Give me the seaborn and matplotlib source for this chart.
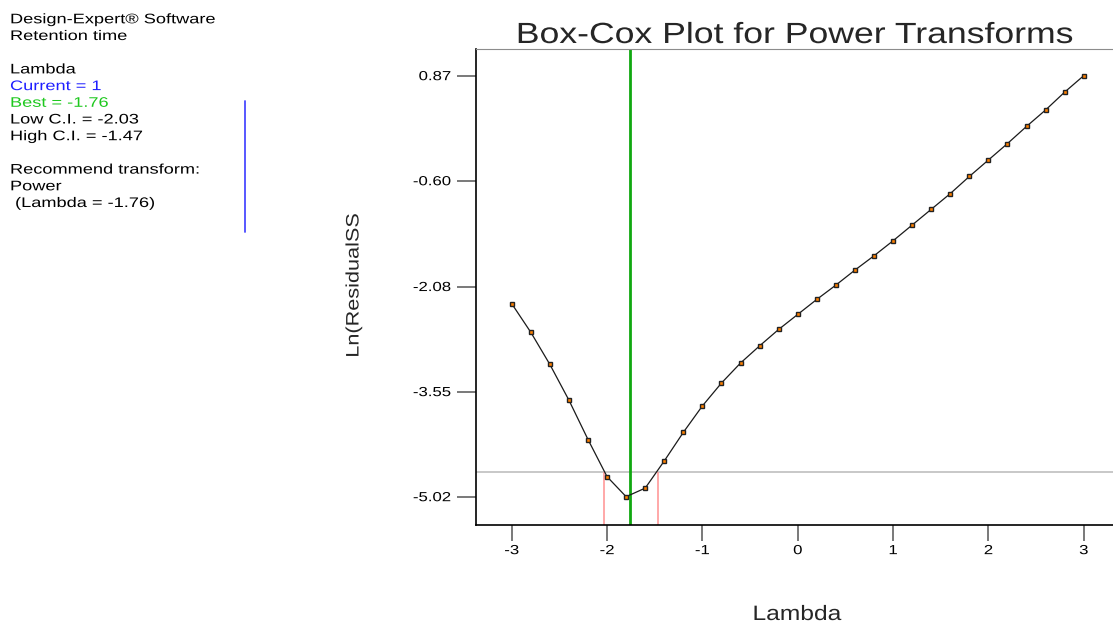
import matplotlib
matplotlib.use("Agg")
import matplotlib.pyplot as plt
from matplotlib.lines import Line2D
from matplotlib.patheffects import AbstractPathEffect
from matplotlib.transforms import Affine2D
import numpy as np
import pandas as pd
import seaborn as sns

# Box-Cox scan: lambda vs ln(residual SS)
lambdas = [-3.0, -2.8, -2.6, -2.4, -2.2, -2.0, -1.8, -1.6, -1.4, -1.2, -1.0,
           -0.8, -0.6, -0.4, -0.2, 0.0, 0.2, 0.4, 0.6, 0.8, 1.0,
           1.2, 1.4, 1.6, 1.8, 2.0, 2.2, 2.4, 2.6, 2.8, 3.0]
ln_rss = [-2.32, -2.72, -3.17, -3.67, -4.22, -4.74, -5.02, -4.90, -4.52, -4.12, -3.75,
          -3.43, -3.15, -2.91, -2.68, -2.47, -2.26, -2.06, -1.85, -1.65, -1.44,
          -1.22, -1.00, -0.78, -0.54, -0.31, -0.08, 0.16, 0.39, 0.64, 0.87]

best_lambda = -1.76
current_lambda = 1
ci_low = -2.03
ci_high = -1.47
ci_threshold = -4.67

x_ticks = [-3, -2, -1, 0, 1, 2, 3]
y_ticks = [-5.02, -3.55, -2.08, -0.60, 0.87]

info_lines = [
    ("Design-Expert\u00ae Software", "black"),
    ("Retention time", "black"),
    ("", "black"),
    ("Lambda", "black"),
    (f"Current = {current_lambda}", "#1f1fff"),
    (f"Best = {best_lambda}", "#1ec81e"),
    (f"Low C.I. = {ci_low}", "black"),
    (f"High C.I. = {ci_high}", "black"),
    ("", "black"),
    ("Recommend transform:", "black"),
    ("Power", "black"),
    (f" (Lambda = {best_lambda})", "black"),
]


class Widen(AbstractPathEffect):
    """Stretch glyphs along the baseline, keeping the given anchor fixed."""

    def __init__(self, sx, anchor=0.0):
        super().__init__()
        self._sx = sx
        self._anchor = anchor

    def draw_path(self, renderer, gc, tpath, affine, rgbFace=None):
        w = tpath.get_extents().x1
        a = self._anchor * w
        local = Affine2D().translate(-a, 0).scale(self._sx, 1).translate(a, 0)
        renderer.draw_path(gc, tpath, local + affine, rgbFace)


sns.set_style("white")
plt.rcParams["font.family"] = ["Liberation Sans", "DejaVu Sans"]

W, H = 1113, 622
fig = plt.figure(figsize=(W / 100, H / 100), dpi=100)
fig.patch.set_facecolor("white")

ax_l, ax_r, ax_b, ax_t = 475.7, 1113.0, 525.0, 48.5
ax = fig.add_axes([ax_l / W, 1 - ax_b / H, (ax_r - ax_l) / W, (ax_b - ax_t) / H])
ax.set_facecolor("white")

df = pd.DataFrame({"Lambda": lambdas, "LnRSS": ln_rss})

ymin, ymax = -5.416, 1.25
ax.set_xlim(-3.378, 3.307)
ax.set_ylim(ymin, ymax)

# reference lines
ax.axhline(ci_threshold, color="#c4c4c4", lw=1.3, zorder=1)
ax.vlines([ci_low, ci_high], ymin, ci_threshold, color="#ff9a9a", lw=1.2, zorder=1)
ax.axvline(best_lambda, color="#10a810", lw=2.0, zorder=2)

sns.lineplot(data=df, x="Lambda", y="LnRSS", ax=ax, color="#1a1a1a", lw=0.9,
             marker="s", markersize=3.2, markerfacecolor="#ff8000",
             markeredgecolor="#222222", markeredgewidth=1.0, zorder=3)

ax.set_xticks(x_ticks)
ax.set_xticklabels([str(v) for v in x_ticks])
ax.set_yticks(y_ticks)
ax.set_yticklabels([f"{v:.2f}" for v in y_ticks])
ax.tick_params(axis="x", direction="out", length=11.5, width=1.1, color="#555555",
               pad=3, labelsize=9.5, labelcolor="black", bottom=True)
ax.tick_params(axis="y", direction="out", length=13.7, width=1.1, color="#555555",
               pad=4, labelsize=9.5, labelcolor="black", left=True)
for lab in ax.get_xticklabels():
    lab.set_path_effects([Widen(1.27, 0.5)])
for lab in ax.get_yticklabels():
    lab.set_path_effects([Widen(1.27, 1.0)])

for side in ("left", "bottom"):
    ax.spines[side].set_color("black")
    ax.spines[side].set_linewidth(1.2)
ax.spines["top"].set_color("#8c8c8c")
ax.spines["top"].set_linewidth(0.8)
ax.spines["right"].set_visible(False)

ax.set_title("Box-Cox Plot for Power Transforms", fontsize=21, pad=0,
             y=(ax_b - 43) / (ax_b - ax_t), va="baseline",
             path_effects=[Widen(1.22, 0.5)])

ax.set_xlabel("Lambda", fontsize=15, va="baseline", path_effects=[Widen(1.18, 0.5)])
ax.xaxis.set_label_coords((797 - ax_l) / (ax_r - ax_l), -(620 - ax_b) / (ax_b - ax_t))
ax.set_ylabel("Ln(ResidualSS", fontsize=13, va="center", ha="center",
              path_effects=[Widen(1.2, 0.5)])
ax.yaxis.set_label_coords((354 - ax_l) / (ax_r - ax_l), (ax_b - 285.5) / (ax_b - ax_t))

# side panel text
base0, step = 23.3, 16.7
for i, (txt, col) in enumerate(info_lines):
    if not txt:
        continue
    fig.text(10 / W, 1 - (base0 + i * step) / H, txt, color=col, fontsize=10,
             ha="left", va="baseline", path_effects=[Widen(1.31, 0.0)])

# marker for the current lambda
fig.add_artist(Line2D([245 / W, 245 / W], [1 - 100.7 / H, 1 - 231.7 / H],
                      color="#4a4aff", lw=1.3, transform=fig.transFigure))

fig.savefig("out.png", dpi=100, facecolor="white")
